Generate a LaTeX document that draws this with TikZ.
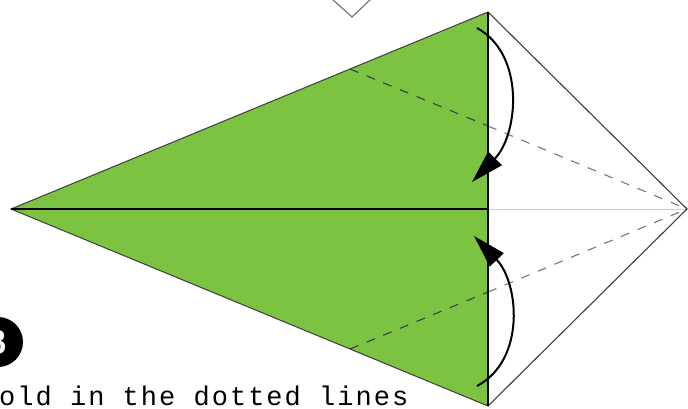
\documentclass[tikz,border=0pt]{standalone}
\usepackage{fontspec}
\newfontfamily\monof[LetterSpace=7.5]{Liberation Mono}
\usetikzlibrary{arrows.meta}
\definecolor{leaf}{RGB}{125,195,66}
\definecolor{edgegray}{RGB}{60,60,60}
\definecolor{paleline}{RGB}{205,205,205}
\definecolor{foldgray}{RGB}{120,120,120}
\begin{document}
\begin{tikzpicture}[x=1pt,y=-1pt,
  outline/.style={draw=edgegray, line width=1.1pt},
  foldline/.style={dash pattern=on 9pt off 9pt, line width=1.1pt},
  turn/.style={draw=black, line width=2pt, -{Triangle[length=33pt,width=19pt]}},
  stepnum/.style={circle, fill=black, minimum size=50pt, inner sep=0pt, text=white,
    font=\sffamily\bfseries\fontsize{32}{32}\selectfont},
  caption/.style={anchor=base west, inner sep=0pt, font=\monof\fontsize{27}{27}\selectfont}]
\useasboundingbox (0,0) rectangle (688,408);
\clip (0,0) rectangle (688,408);
% key points
\coordinate (L) at (11,209);
\coordinate (T) at (488,12);
\coordinate (B) at (488,406);
\coordinate (R) at (687,209);
\coordinate (M) at (488,209);
\coordinate (U1) at (350,69);
\coordinate (U2) at (488,126);
\coordinate (D1) at (350,349);
\coordinate (D2) at (488,292);
% previous-step fragment at top
\coordinate (V1) at (332,-1);
\coordinate (V2) at (352,17);
\coordinate (V3) at (371,-1);
\draw[draw=foldgray, line width=1.2pt] (V1) -- (V2) -- (V3);
% green part
\fill[leaf] (L) -- (T) -- (B) -- cycle;
% white flap and lines
\draw[draw=paleline, line width=1pt] (M) -- (R);
\draw[outline] (T) -- (R) -- (B);
\draw[draw=edgegray, line width=1pt] (T) -- (L) -- (B);
\draw[draw=black, line width=2pt] (L) -- (M);
% fold lines
\draw[foldline, draw=edgegray] (U1) -- (U2);
\draw[foldline, draw=foldgray] (U2) -- (R);
\draw[foldline, draw=edgegray] (D1) -- (D2);
\draw[foldline, draw=foldgray] (D2) -- (R);
\draw[draw=black, line width=1.5pt] (T) -- (B);
% arrows
\coordinate (A1s) at (477,28);
\coordinate (A1e) at (472,182);
\coordinate (A2s) at (477,386);
\coordinate (A2e) at (474,236);
\draw[turn] (A1s) .. controls (526,55) and (518,135) .. (A1e);
\draw[turn] (A2s) .. controls (526,360) and (519,283) .. (A2e);
% step number and caption
\node[stepnum] (num) at (-2,342) {3};
\node[caption] (cap) at (-1,405) {old in the dotted lines};
\end{tikzpicture}
\end{document}
